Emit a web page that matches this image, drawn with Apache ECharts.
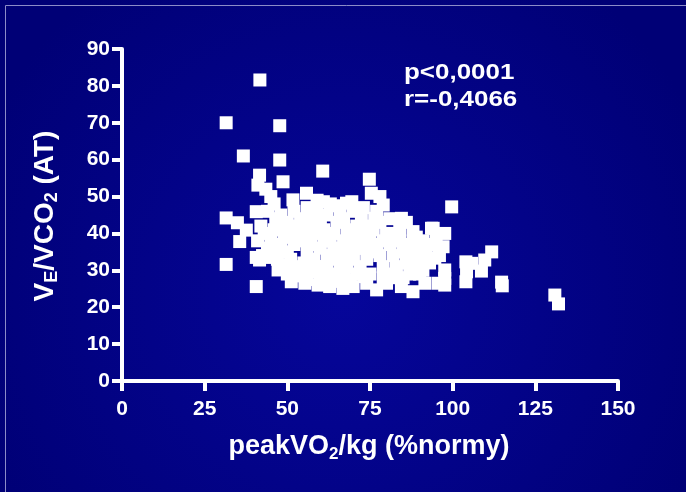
<!DOCTYPE html>
<html>
<head>
<meta charset="utf-8">
<script src="https://cdn.jsdelivr.net/npm/echarts@6/dist/echarts.min.js"></script>
<style>html,body{margin:0;padding:0;background:#00007a;}#c{width:686px;height:492px;}</style>
</head>
<body>
<div id="c"></div>
<script>
// Data
const xTicks = [0, 25, 50, 75, 100, 125, 150];
const yTicks = [0, 10, 20, 30, 40, 50, 60, 70, 80, 90];
const statsLines = ['p<0,0001', 'r=-0,4066'];

// outlying / edge points [peakVO2/kg %, VE/VCO2]
const edgePoints = [
  [41.7,81.6],[31.5,70.0],[47.7,69.2],[36.7,61.0],[47.7,59.9],[60.7,56.9],[74.8,54.7],[99.7,47.2],
  [31.5,44.2],[34.9,42.9],[31.5,31.6],[40.6,25.6],[115,25.8],[114.8,26.8],[130.9,23.3],[132,20.9],
  [111.8,35],[109.7,32.8],[104,32.3],[105.7,31.9],[108.7,29.8],[104.2,29.6],[104,26.9],[97.6,30.1],
  [97.6,26],[95.6,26.5],[97.6,27.8],[94.1,41.4],[97.6,40],[94.6,36.9],[97.1,36.4],[94.6,33.3],
  [35.6,37.8],[37.6,40.9],[41.6,32.8],[40.6,33.5],[47.2,30.1],[51.2,26.9],[55.3,26.5],[59.3,26],
  [62.8,25.6],[66.8,25.1],[69.9,25.6],[77,24.7],[80,26.5],[84.5,25.6],[88,24.2],[91.6,26.5],
  [73.4,28.3],[41.6,55.8],[41.1,53.1],[48.7,54],[40.6,45.9],[55.8,50.9],[51.7,49.1],[75.4,50.9],
  [78,50],[79,47.7],[84.5,44.1],[88,40.5],[93.6,41.4],[67.9,48.2],[72.4,45],[76.4,44.1],
  [60.9,48.6],[69.5,48.6],[65,47.5],[43.5,52],[45,50],[46,48],[44,46],[46.5,44],[42,42],
  [43,40],[41,38],[44,36],[42.5,34],[45,33.5]
];
// dense central cluster
const clusterPoints = [
  [48,45],[50,43],[52,46],[54,44],[49,41],[51,39],[53,41],[55,42],[48,37],[50,35],[52,37],[54,38],
  [47,33],[49,31.5],[51,33],[53,30],[55,32],[50,29],[54,28.5],[56,35],[56,47],[57,44],[58,40],
  [57,37],[58,33],[57,29.5],[56,27.5],
  [59,46],[60,43],[61,41],[62,45],[63,38],[60,36],[62,34],[61,31],[63,29],[64,27],[65,43],[64,40],
  [66,36],[65,33],[66,30],[60,28],[62,27],[59,49],[63,48],[66,46],
  [67,44],[68,41],[69,38],[70,46],[71,42],[72,39],[73,36],[67,34],[68,31],[70,33],[71,29],[72,31],
  [74,33],[75,38],[74,42],[73,47],[69,27.5],[67,28.5],[75,29],[74,26.5],
  [76,41],[77,37],[78,34],[79,31],[80,29],[77,46],[78,43],[80,40],[81,37],[82,34],[83,31],[82,28],
  [84,38],[85,35],[86,32],[84,41],[86,43],[85,28],[81,44],[79,28],
  [87,37],[88,34],[89,31],[90,29],[91,38],[92,35],[93,32],[89,39],[90,36],[87,29],[91,30],[93,37],
  [95,39],[96,34],
  [46,41],[45,38],[47,35],[49,39],[52,42],[55,39],[58,42],[61,38],[64,35],[67,38],[70,40],[73,41],
  [76,35],[79,38],[82,40],[85,37],[88,37],[91,33],[71,36],[68,35],[62,31],[59,31],[56,30],[52,31]
];

const chart = echarts.init(document.getElementById('c'), null, {renderer: 'canvas'});
const FONT = '"Liberation Sans", Arial, Helvetica, sans-serif';
const axisCommon = {
  axisLine: {show: true, onZero: false, lineStyle: {color: '#ffffff', width: 4}},
  axisTick: {show: true, length: 10, lineStyle: {color: '#ffffff', width: 4}},
  splitLine: {show: false},
  axisLabel: {color: '#ffffff', fontFamily: FONT, fontWeight: 'bold', fontSize: 21}
};

chart.setOption({
  animation: false,
  backgroundColor: {
    type: 'radial', x: 0.5, y: 0.6, r: 0.8,
    colorStops: [{offset: 0, color: '#06069a'}, {offset: 1, color: '#000076'}]
  },
  grid: {left: 122, right: 68, top: 49, bottom: 111},
  xAxis: Object.assign({}, axisCommon, {
    type: 'value', min: xTicks[0], max: xTicks[xTicks.length - 1], interval: 25,
    axisLabel: Object.assign({}, axisCommon.axisLabel, {margin: 18})
  }),
  yAxis: Object.assign({}, axisCommon, {
    type: 'value', min: yTicks[0], max: yTicks[yTicks.length - 1], interval: 10,
    axisLabel: Object.assign({}, axisCommon.axisLabel, {margin: 12})
  }),
  series: [{
    type: 'scatter',
    symbol: 'rect',
    symbolSize: [13, 13],
    itemStyle: {color: '#ffffff', borderWidth: 0, opacity: 1},
    data: edgePoints.concat(clusterPoints)
  }],
  graphic: [
    {type: 'rect', shape: {x: 5.5, y: 5.5, width: 720, height: 520}, silent: true,
     style: {fill: 'none', stroke: '#8c8cc8', lineWidth: 1}},
    {type: 'text', x: 404, y: 73, scaleX: 1.18, silent: true,
     style: {text: statsLines[0], fill: '#ffffff', font: 'bold 22px ' + FONT, textAlign: 'left', textVerticalAlign: 'middle'}},
    {type: 'text', x: 404, y: 100, scaleX: 1.18, silent: true,
     style: {text: statsLines[1], fill: '#ffffff', font: 'bold 22px ' + FONT, textAlign: 'left', textVerticalAlign: 'middle'}},
    {type: 'text', x: 369, y: 447, silent: true,
     style: {
       text: '{a|peakVO}{s|2}{a|/kg (%normy)}',
       textAlign: 'center', textVerticalAlign: 'middle',
       rich: {
         a: {fill: '#ffffff', color: '#ffffff', fontFamily: FONT, fontWeight: 'bold', fontSize: 27, lineHeight: 32},
         s: {fill: '#ffffff', color: '#ffffff', fontFamily: FONT, fontWeight: 'bold', fontSize: 17, lineHeight: 17, verticalAlign: 'bottom'}
       }
     }},
    {type: 'text', x: 45, y: 216, rotation: Math.PI / 2, silent: true,
     style: {
       text: '{a|V}{s|E}{a|/VCO}{s|2}{a| (AT)}',
       textAlign: 'center', textVerticalAlign: 'middle',
       rich: {
         a: {fill: '#ffffff', color: '#ffffff', fontFamily: FONT, fontWeight: 'bold', fontSize: 28, lineHeight: 32},
         s: {fill: '#ffffff', color: '#ffffff', fontFamily: FONT, fontWeight: 'bold', fontSize: 18, lineHeight: 18, verticalAlign: 'bottom'}
       }
     }}
  ]
});
</script>
</body>
</html>
